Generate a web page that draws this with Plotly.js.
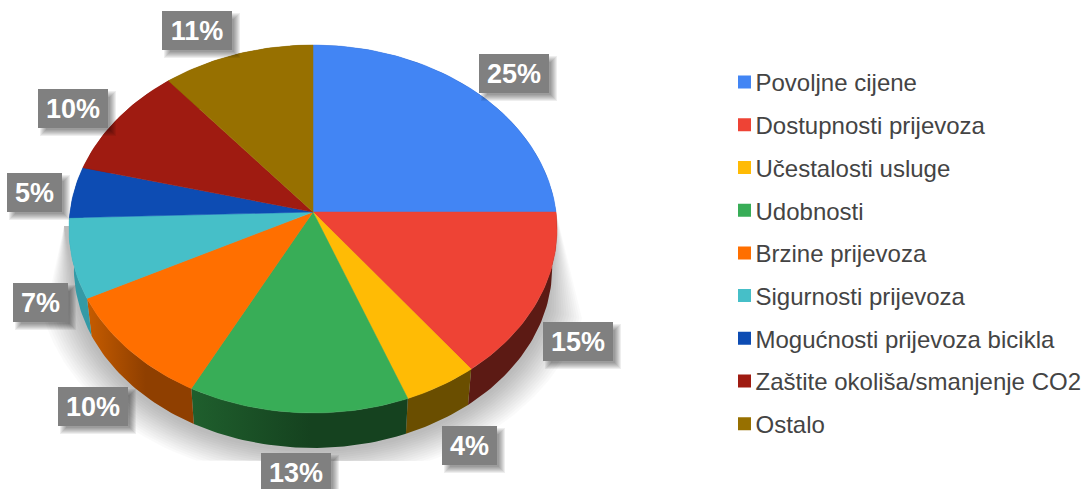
<!DOCTYPE html>
<html>
<head>
<meta charset="utf-8">
<script src="https://cdn.plot.ly/plotly-3.0.1.min.js"></script>
<style>html,body{margin:0;padding:0;background:#fff;overflow:hidden}#chart{width:1083px;height:489px}</style>
</head>
<body>
<div id="chart"></div>
<script>
var categories = ["Povoljne cijene","Dostupnosti prijevoza","Učestalosti usluge","Udobnosti","Brzine prijevoza","Sigurnosti prijevoza","Mogućnosti prijevoza bicikla","Zaštite okoliša/smanjenje CO2","Ostalo"];
var values = [25,14.7,4.5,13.4,9.9,7,4.5,10,11];
var percentLabels = ["25%","15%","4%","13%","10%","7%","5%","10%","11%"];
var topColors = ["#4285f4","#ee4335","#ffbb05","#38ad57","#ff6f00","#46bfc8","#0d4cb3","#9f1b11","#977000"];
var wallStops = [
  ["#26509a","#26509a"],
  ["#5c1a14","#5c1a14"],
  ["#6a4e00","#6a4e00"],
  ["#1f5f2d","#15421f"],
  ["#c65c00","#8f3f00"],
  ["#349aa6","#349aa6"],
  ["#0a3a88","#0a3a88"],
  ["#701208","#701208"],
  ["#6a4e00","#6a4e00"]
];
var labelLeft = [479,543,442,261,58,13,7,38,162];
var labelTop  = [54,322,426,453,387,283,173,89,11];

// pie projection (pixel-sized axes)
var CX=313, CY=212, RX=243, RY=182.4, PERSP=0.0924, WALL_SCALE=0.98, WALL_DROP=39;
function project(pct, scale, drop){
  var th=pct/100*2*Math.PI, u=Math.sin(th), v=-Math.cos(th), d=1-PERSP*v;
  return [CX+RX*u/d*scale, CY+RY*v/d*scale+drop];
}
function arc(a,b,scale,drop){
  var n=Math.max(2,Math.ceil(Math.abs(b-a)*3)), pts=[];
  for(var i=0;i<=n;i++) pts.push(project(a+(b-a)*i/n,scale,drop));
  return pts;
}
function poly(pts){ return {x:pts.map(function(p){return p[0]}).concat(pts[0][0]), y:pts.map(function(p){return p[1]}).concat(pts[0][1])}; }

var traces=[], shapes=[], annotations=[];

// soft shadow beneath the pie
var SHADOW_LAYERS=14, SHADOW_BOTTOM=461;
for(var k=SHADOW_LAYERS;k>=1;k--){
  var s=WALL_SCALE*(1+0.011*k);
  var pts=[[556,212]].concat(arc(30,70,s,WALL_DROP+2).map(function(p){return [p[0],Math.min(p[1],SHADOW_BOTTOM)]})).concat([[64,226]]);
  var pg=poly(pts);
  traces.push({type:"scatter",mode:"lines",x:pg.x,y:pg.y,fill:"toself",fillcolor:"rgba(0,0,0,0.02)",line:{width:0},hoverinfo:"skip",showlegend:false});
}

// side walls, then top faces
var cum=0, starts=values.map(function(v){var c=cum;cum+=v;return c});
values.forEach(function(v,i){
  var a=starts[i], b=a+v;
  var pts=arc(a,b,1,0).concat(arc(b,a,WALL_SCALE,WALL_DROP)), pg=poly(pts);
  traces.push({type:"scatter",mode:"lines",x:pg.x,y:pg.y,fill:"toself",line:{width:0},hoverinfo:"skip",showlegend:false,
    fillcolor:wallStops[i][0],
    fillgradient:{type:"horizontal",colorscale:[[0,wallStops[i][0]],[0.55,wallStops[i][1]],[1,wallStops[i][1]]]}});
});
values.forEach(function(v,i){
  var a=starts[i], b=a+v;
  var pg=poly([[CX,CY]].concat(arc(a,b,1,0)));
  traces.push({type:"scatter",mode:"lines",x:pg.x,y:pg.y,fill:"toself",fillcolor:topColors[i],line:{width:0.5,color:topColors[i]},hoverinfo:"skip",showlegend:false,name:categories[i]});
});

// legend entries
categories.forEach(function(c,i){
  traces.push({type:"scatter",mode:"markers",x:[null],y:[null],name:c,legendgroup:"g"+i,marker:{symbol:"square",size:13,color:topColors[i]},hoverinfo:"skip"});
});

// percentage labels with soft drop shadow
var LABEL_H=39;
percentLabels.forEach(function(t,i){
  var w=t.length>2?70:55, x=labelLeft[i], y=labelTop[i];
  for(var g=3;g>=-3;g--){
    shapes.push({type:"rect",xref:"x",yref:"y",x0:x+5-g,x1:x+w+5+g,y0:y+5-g,y1:y+LABEL_H+5+g,fillcolor:"rgba(0,0,0,0.065)",line:{width:0},layer:"above"});
  }
  annotations.push({xref:"x",yref:"y",x:x,y:y,xanchor:"left",yanchor:"top",width:w,height:LABEL_H,showarrow:false,text:t,
    align:"center",valign:"middle",bgcolor:"#808080",borderpad:0,borderwidth:0,
    font:{family:"Liberation Sans, Arial, sans-serif",size:27,color:"#ffffff",weight:700}});
});

var layout={
  width:1083,height:489,margin:{l:0,r:0,t:0,b:0},paper_bgcolor:"#ffffff",plot_bgcolor:"#ffffff",
  xaxis:{range:[0,1083],visible:false,fixedrange:true},
  yaxis:{range:[489,0],visible:false,fixedrange:true},
  shapes:shapes,annotations:annotations,hovermode:false,
  legend:{x:1,xanchor:"right",y:1-60/489,yanchor:"top",bgcolor:"rgba(0,0,0,0)",borderwidth:0,itemwidth:30,
    traceorder:"grouped",tracegroupgap:8.5,itemclick:false,itemdoubleclick:false,
    font:{family:"Liberation Sans, Arial, sans-serif",size:24,color:"#444444"}}
};
Plotly.newPlot("chart",traces,layout,{displayModeBar:false}).then(function(){
  document.querySelectorAll("#chart .legend .legendsymbols").forEach(function(n){n.setAttribute("transform","translate(9,0)")});
  var lg=document.querySelector("#chart .legend"), m=/translate\(\s*([-\d.]+)[ ,]+([-\d.]+)/.exec(lg.getAttribute("transform")||"");
  if(m) lg.setAttribute("transform","translate("+(parseFloat(m[1])+3.5)+","+m[2]+")");
});
</script>
</body>
</html>
